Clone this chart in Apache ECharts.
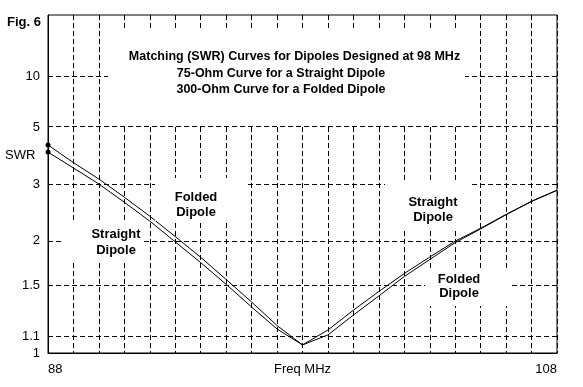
<!DOCTYPE html>
<html>
<head>
<meta charset="utf-8">
<script src="https://cdn.jsdelivr.net/npm/echarts@6/dist/echarts.min.js"></script>
<style>
html,body{margin:0;padding:0;background:#fff;}
#chart{width:583px;height:387px;}
</style>
</head>
<body>
<div id="chart"></div>
<script>
// ---- data ----
const freqMHz = [88, 89, 90, 91, 92, 93, 94, 95, 96, 97, 98, 99, 100, 101, 102, 103, 104, 105, 106, 107, 108];
const straightSWR = [3.93, 3.42, 3.00, 2.61, 2.28, 1.98, 1.73, 1.51, 1.315, 1.153, 1.049, 1.146, 1.29, 1.445, 1.615, 1.793, 1.99, 2.17, 2.39, 2.63, 2.86];
const foldedSWR = [4.20, 3.58, 3.12, 2.71, 2.36, 2.05, 1.79, 1.556, 1.355, 1.177, 1.049, 1.113, 1.253, 1.406, 1.585, 1.765, 1.97, 2.16, 2.385, 2.625, 2.855];
const swrTicks = [1, 1.1, 1.5, 2, 3, 5, 10];
const swrTickLabels = ['1', '1.1', '1.5', '2', '3', '5', '10'];
const xLabelValues = [88, 98, 108];
const xLabelTexts = ['88', 'Freq MHz', '108'];
const titleLines = [
  'Matching (SWR) Curves for Dipoles Designed at 98 MHz',
  '75-Ohm Curve for a Straight Dipole',
  '300-Ohm Curve for a Folded Dipole'
];

// SWR scale is linear in reflection coefficient
const rho = s => (s - 1) / (s + 1);

const FONT = '"Liberation Sans", Arial, sans-serif';
const chart = echarts.init(document.getElementById('chart'), null, {renderer: 'canvas'});

function seriesData(arr) {
  return freqMHz.map((f, i) => [f, rho(arr[i])]);
}
const dash = [5, 3];

const option = {
  animation: false,
  backgroundColor: '#fff',
  grid: {left: 48, top: 15, right: 26, bottom: 34, show: true, borderColor: '#000', borderWidth: 1, backgroundColor: 'transparent'},
  xAxis: {
    type: 'value', min: 88, max: 108, interval: 1,
    axisLine: {show: true, lineStyle: {color: '#000', width: 1}},
    axisTick: {show: false},
    splitLine: {show: true, lineStyle: {color: '#000', width: 1, type: dash}},
    axisLabel: {
      customValues: xLabelValues,
      formatter: v => { const i = xLabelValues.indexOf(v); return i >= 0 ? xLabelTexts[i] : ''; },
      alignMinLabel: 'left', alignMaxLabel: 'right',
      color: '#000', fontFamily: FONT, fontSize: 13, margin: 10
    }
  },
  yAxis: {
    type: 'value', min: 0, max: 1,
    axisLine: {show: true, lineStyle: {color: '#000', width: 1}},
    axisTick: {show: false},
    splitLine: {show: false},
    axisLabel: {
      customValues: swrTicks.map(rho),
      formatter: v => {
        let best = 0, bd = 1e9;
        swrTicks.forEach((s, i) => { const d = Math.abs(rho(s) - v); if (d < bd) { bd = d; best = i; } });
        return swrTickLabels[best];
      },
      color: '#000', fontFamily: FONT, fontSize: 13, margin: 8
    }
  },
  series: [
    {
      name: 'Straight Dipole (75 Ohm)', type: 'line',
      data: seriesData(straightSWR),
      showSymbol: true, showAllSymbol: true, symbol: 'circle',
      symbolSize: (v, p) => p.dataIndex === 0 ? 5 : 0,
      itemStyle: {color: '#000'},
      lineStyle: {color: '#000', width: 1},
      smooth: false, z: 3,
      markLine: {
        silent: true, symbol: 'none', animation: false,
        label: {show: false},
        lineStyle: {color: '#000', width: 1, type: dash},
        data: swrTicks.slice(1).map(s => ({yAxis: rho(s)}))
      }
    },
    {
      name: 'Folded Dipole (300 Ohm)', type: 'line',
      data: seriesData(foldedSWR),
      showSymbol: true, showAllSymbol: true, symbol: 'circle',
      symbolSize: (v, p) => p.dataIndex === 0 ? 5 : 0,
      itemStyle: {color: '#000'},
      lineStyle: {color: '#000', width: 1},
      smooth: false, z: 3
    }
  ],
  graphic: [
    // white boxes behind annotations
    {type: 'rect', z: 10, shape: {x: 108, y: 28, width: 357, height: 96}, style: {fill: '#fff'}},
    {type: 'rect', z: 10, shape: {x: 62, y: 220, width: 80, height: 42}, style: {fill: '#fff'}},
    {type: 'rect', z: 10, shape: {x: 155, y: 178, width: 93, height: 43}, style: {fill: '#fff'}},
    {type: 'rect', z: 10, shape: {x: 385, y: 180, width: 85, height: 50}, style: {fill: '#fff'}},
    {type: 'rect', z: 10, shape: {x: 425, y: 268, width: 87, height: 38}, style: {fill: '#fff'}},
    // title lines
    {type: 'text', z: 11, x: 294.5, y: 57, style: {text: titleLines[0], font: 'bold 12.5px ' + FONT, fill: '#000', align: 'center', verticalAlign: 'middle'}},
    {type: 'text', z: 11, x: 281, y: 73.5, style: {text: titleLines[1], font: 'bold 12.5px ' + FONT, fill: '#000', align: 'center', verticalAlign: 'middle'}},
    {type: 'text', z: 11, x: 281, y: 89.5, style: {text: titleLines[2], font: 'bold 12.5px ' + FONT, fill: '#000', align: 'center', verticalAlign: 'middle'}},
    // fig label and y name
    {type: 'text', z: 11, x: 7, y: 22, style: {text: 'Fig. 6', font: 'bold 13px ' + FONT, fill: '#000', align: 'left', verticalAlign: 'middle'}},
    {type: 'text', z: 11, x: 5, y: 155.5, style: {text: 'SWR', font: '13px ' + FONT, fill: '#000', align: 'left', verticalAlign: 'middle'}},
    // curve labels
    {type: 'text', z: 11, x: 116, y: 242, style: {text: 'Straight\nDipole', font: 'bold 13px ' + FONT, lineHeight: 16, fill: '#000', align: 'center', verticalAlign: 'middle'}},
    {type: 'text', z: 11, x: 196, y: 204.5, style: {text: 'Folded\nDipole', font: 'bold 13px ' + FONT, lineHeight: 15, fill: '#000', align: 'center', verticalAlign: 'middle'}},
    {type: 'text', z: 11, x: 433, y: 209.5, style: {text: 'Straight\nDipole', font: 'bold 13px ' + FONT, lineHeight: 15, fill: '#000', align: 'center', verticalAlign: 'middle'}},
    {type: 'text', z: 11, x: 459, y: 286.5, style: {text: 'Folded\nDipole', font: 'bold 13px ' + FONT, lineHeight: 14, fill: '#000', align: 'center', verticalAlign: 'middle'}}
  ]
};
chart.setOption(option);
</script>
</body>
</html>
